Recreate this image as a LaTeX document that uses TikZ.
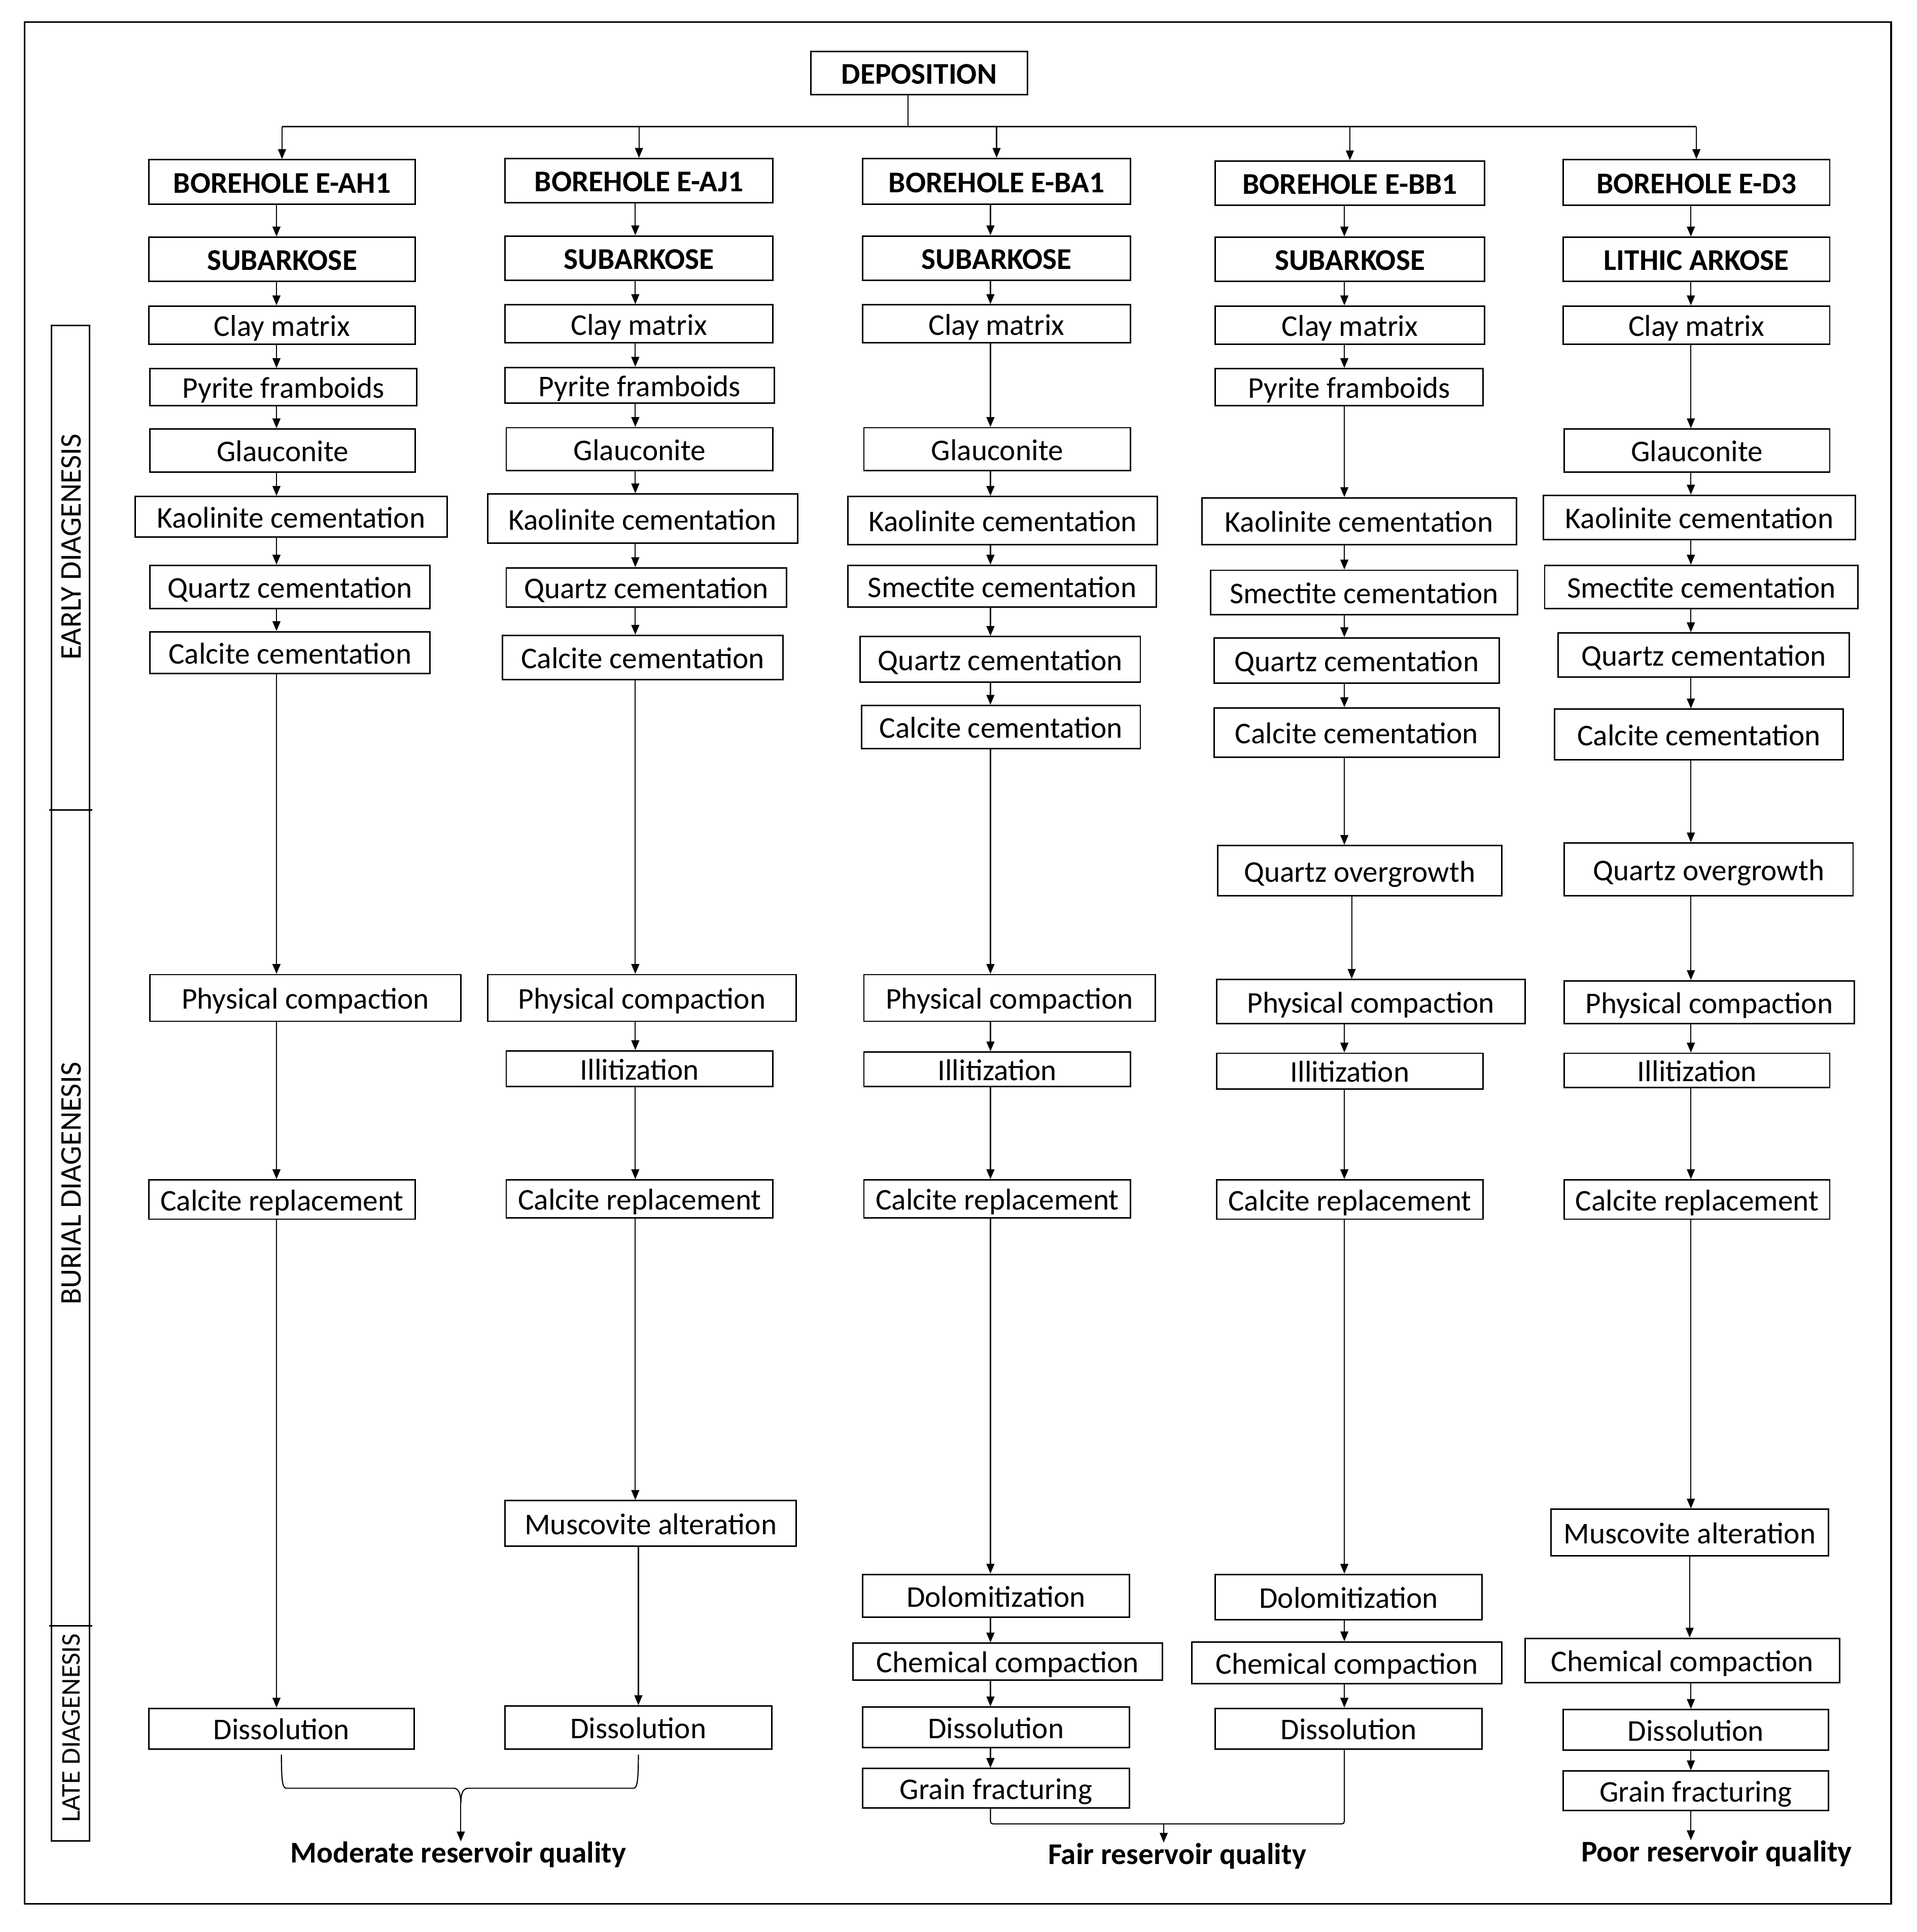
\documentclass[tikz,border=0pt]{standalone}
\usepackage{fontspec}
\setmainfont{Carlito}
\usetikzlibrary{arrows.meta}
\usetikzlibrary{calc}
\newcommand{\stgfont}{\fontsize{24.5}{28}\selectfont}
\newcommand{\stagebox}[7][stg]{%
  \node[#1,minimum width={(#5-#3)*1pt},minimum height={(#6-#4)*1pt}]
    (#2) at ({(#3+#5)/2},{(#4+#6)/2}) {#7};}
\tikzset{stg/.style={
  draw,
  line width=1.2pt,
  shape=rectangle,
  inner sep=0pt,
  text height=22pt,
  text depth=4pt,
  font=\stgfont
}}
\tikzset{hdr/.style={stg,font=\stgfont\bfseries}}
\tikzset{flow/.style={line width=0.9pt,-{Triangle[length=8pt,width=6.5pt]}}}
\tikzset{lnk/.style={line width=0.9pt}}
\tikzset{phase/.style={rotate=90,inner sep=0pt,font=\stgfont}}
\tikzset{quality/.style={inner sep=0pt,font=\stgfont\bfseries}}

\begin{document}
\begin{tikzpicture}[x=1pt,y=-1pt]
    \useasboundingbox (0,0) rectangle (1560,1572);
    \draw[line width=1.5pt] (20,18) rectangle (1539,1549);

    % Phase bar
    \draw[line width=1.2pt] (42,265) rectangle (73,1498);
    \draw[line width=1.2pt] (40,659) -- (75,659);
    \draw[line width=1.2pt] (40,1323) -- (75,1323);
    \node[phase] (early) at (58,445) {EARLY DIAGENESIS};
    \node[phase] (burial) at (58,963) {BURIAL DIAGENESIS};
    \node[phase,font=\fontsize{22}{26}\selectfont] (late) at (58,1406) {LATE DIAGENESIS};

    % Deposition and split
    \stagebox[hdr]{dep}{660}{42}{836}{77}{DEPOSITION}
    \coordinate (split) at (739,103);
    \coordinate (ca) at (225,0);
    \coordinate (cb) at (517,0);
    \coordinate (cc) at (806,0);
    \coordinate (cd) at (1094,0);
    \coordinate (cd2) at (1100,0);
    \coordinate (ce) at (1376,0);

    % Borehole E-AH1
    \stagebox[hdr]{a1}{121}{130}{338}{166}{BOREHOLE E-AH1}
    \stagebox[hdr]{a2}{121}{193}{338}{229}{SUBARKOSE}
    \stagebox{a3}{121}{249}{338}{280}{Clay matrix}
    \stagebox{a4}{122}{300}{339}{330}{Pyrite framboids}
    \stagebox{a5}{122}{349}{338}{384}{Glauconite}
    \stagebox{a6}{110}{404}{364}{437}{Kaolinite cementation}
    \stagebox{a7}{122}{460}{350}{495}{Quartz cementation}
    \stagebox{a8}{122}{514}{350}{548}{Calcite cementation}
    \stagebox{a9}{122}{793}{375}{831}{Physical compaction}
    \stagebox{a10}{121}{960}{338}{992}{Calcite replacement}
    \stagebox{a11}{121}{1390}{337}{1423}{Dissolution}

    % Borehole E-AJ1
    \stagebox[hdr]{b1}{411}{129}{629}{165}{BOREHOLE E-AJ1}
    \stagebox[hdr]{b2}{411}{192}{629}{228}{SUBARKOSE}
    \stagebox{b3}{411}{248}{629}{279}{Clay matrix}
    \stagebox{b4}{411}{299}{630}{328}{Pyrite framboids}
    \stagebox{b5}{412}{348}{629}{383}{Glauconite}
    \stagebox{b6}{397}{402}{649}{442}{Kaolinite cementation}
    \stagebox{b7}{412}{462}{640}{494}{Quartz cementation}
    \stagebox{b8}{409}{517}{637}{553}{Calcite cementation}
    \stagebox{b9}{397}{793}{648}{831}{Physical compaction}
    \stagebox{b10}{412}{855}{629}{884}{Illitization}
    \stagebox{b11}{412}{960}{629}{991}{Calcite replacement}
    \stagebox{b12}{411}{1221}{648}{1258}{Muscovite alteration}
    \stagebox{b13}{411}{1388}{628}{1423}{Dissolution}

    % Borehole E-BA1
    \stagebox[hdr]{c1}{702}{129}{920}{166}{BOREHOLE E-BA1}
    \stagebox[hdr]{c2}{702}{192}{920}{228}{SUBARKOSE}
    \stagebox{c3}{702}{248}{920}{279}{Clay matrix}
    \stagebox{c4}{703}{348}{920}{383}{Glauconite}
    \stagebox{c5}{690}{404}{942}{443}{Kaolinite cementation}
    \stagebox{c6}{690}{460}{941}{494}{Smectite cementation}
    \stagebox{c7}{700}{518}{928}{555}{Quartz cementation}
    \stagebox{c8}{701}{574}{928}{609}{Calcite cementation}
    \stagebox{c9}{703}{793}{940}{831}{Physical compaction}
    \stagebox{c10}{703}{856}{920}{884}{Illitization}
    \stagebox{c11}{703}{960}{920}{991}{Calcite replacement}
    \stagebox{c12}{702}{1281}{919}{1316}{Dolomitization}
    \stagebox{c13}{694}{1337}{946}{1367}{Chemical compaction}
    \stagebox{c14}{702}{1389}{919}{1422}{Dissolution}
    \stagebox{c15}{702}{1439}{919}{1471}{Grain fracturing}

    % Borehole E-BB1
    \stagebox[hdr]{d1}{989}{131}{1208}{167}{BOREHOLE E-BB1}
    \stagebox[hdr]{d2}{989}{193}{1208}{229}{SUBARKOSE}
    \stagebox{d3}{989}{249}{1208}{280}{Clay matrix}
    \stagebox{d4}{989}{300}{1207}{330}{Pyrite framboids}
    \stagebox{d5}{978}{405}{1234}{443}{Kaolinite cementation}
    \stagebox{d6}{985}{464}{1235}{500}{Smectite cementation}
    \stagebox{d7}{988}{519}{1220}{556}{Quartz cementation}
    \stagebox{d8}{988}{576}{1220}{616}{Calcite cementation}
    \stagebox{d9}{991}{688}{1222}{729}{Quartz overgrowth}
    \stagebox{d10}{990}{797}{1241}{833}{Physical compaction}
    \stagebox{d11}{990}{857}{1207}{886}{Illitization}
    \stagebox{d12}{990}{960}{1207}{992}{Calcite replacement}
    \stagebox{d13}{989}{1281}{1206}{1318}{Dolomitization}
    \stagebox{d14}{970}{1336}{1222}{1370}{Chemical compaction}
    \stagebox{d15}{989}{1390}{1206}{1423}{Dissolution}

    % Borehole E-D3
    \stagebox[hdr]{e1}{1272}{130}{1489}{167}{BOREHOLE E-D3}
    \stagebox[hdr]{e2}{1272}{193}{1489}{229}{LITHIC ARKOSE}
    \stagebox{e3}{1272}{249}{1489}{280}{Clay matrix}
    \stagebox{e4}{1273}{349}{1489}{384}{Glauconite}
    \stagebox{e5}{1256}{403}{1510}{439}{Kaolinite cementation}
    \stagebox{e6}{1257}{460}{1512}{495}{Smectite cementation}
    \stagebox{e7}{1268}{515}{1505}{551}{Quartz cementation}
    \stagebox{e8}{1265}{577}{1500}{618}{Calcite cementation}
    \stagebox{e9}{1273}{686}{1508}{729}{Quartz overgrowth}
    \stagebox{e10}{1273}{798}{1509}{833}{Physical compaction}
    \stagebox{e11}{1273}{857}{1489}{885}{Illitization}
    \stagebox{e12}{1273}{960}{1489}{992}{Calcite replacement}
    \stagebox{e13}{1262}{1228}{1488}{1266}{Muscovite alteration}
    \stagebox{e14}{1241}{1333}{1497}{1369}{Chemical compaction}
    \stagebox{e15}{1272}{1391}{1488}{1424}{Dissolution}
    \stagebox{e16}{1272}{1441}{1488}{1473}{Grain fracturing}

    % Quality labels
    \node[quality] (mod) at (373,1509) {Moderate reservoir quality};
    \node[quality] (fair) at (958,1510) {Fair reservoir quality};
    \node[quality] (poor) at (1397,1508) {Poor reservoir quality};

    % Split from deposition
    \draw[lnk] (dep.south -| split) -- (split);
    \draw[lnk] (a1.north |- split) -- (e1.north |- split);
    \draw[flow] (a1.north |- split) -- (a1.north);
    \draw[flow] (b1.north |- split) -- (b1.north);
    \draw[flow] (c1.north |- split) -- (c1.north);
    \draw[flow] (d1.north |- split) -- (d1.north);
    \draw[flow] (e1.north |- split) -- (e1.north);

    % Arrows E-AH1
    \draw[flow] (a1.south -| ca) -- (a2.north -| ca);
    \draw[flow] (a2.south -| ca) -- (a3.north -| ca);
    \draw[flow] (a3.south -| ca) -- (a4.north -| ca);
    \draw[flow] (a4.south -| ca) -- (a5.north -| ca);
    \draw[flow] (a5.south -| ca) -- (a6.north -| ca);
    \draw[flow] (a6.south -| ca) -- (a7.north -| ca);
    \draw[flow] (a7.south -| ca) -- (a8.north -| ca);
    \draw[flow] (a8.south -| ca) -- (a9.north -| ca);
    \draw[flow] (a9.south -| ca) -- (a10.north -| ca);
    \draw[flow] (a10.south -| ca) -- (a11.north -| ca);

    % Arrows E-AJ1
    \draw[flow] (b1.south -| cb) -- (b2.north -| cb);
    \draw[flow] (b2.south -| cb) -- (b3.north -| cb);
    \draw[flow] (b3.south -| cb) -- (b4.north -| cb);
    \draw[flow] (b4.south -| cb) -- (b5.north -| cb);
    \draw[flow] (b5.south -| cb) -- (b6.north -| cb);
    \draw[flow] (b6.south -| cb) -- (b7.north -| cb);
    \draw[flow] (b7.south -| cb) -- (b8.north -| cb);
    \draw[flow] (b8.south -| cb) -- (b9.north -| cb);
    \draw[flow] (b9.south -| cb) -- (b10.north -| cb);
    \draw[flow] (b10.south -| cb) -- (b11.north -| cb);
    \draw[flow] (b11.south -| cb) -- (b12.north -| cb);
    \draw[flow] (b12.south -| b13.north) -- (b13.north);

    % Arrows E-BA1
    \draw[flow] (c1.south -| cc) -- (c2.north -| cc);
    \draw[flow] (c2.south -| cc) -- (c3.north -| cc);
    \draw[flow] (c3.south -| cc) -- (c4.north -| cc);
    \draw[flow] (c4.south -| cc) -- (c5.north -| cc);
    \draw[flow] (c5.south -| cc) -- (c6.north -| cc);
    \draw[flow] (c6.south -| cc) -- (c7.north -| cc);
    \draw[flow] (c7.south -| cc) -- (c8.north -| cc);
    \draw[flow] (c8.south -| cc) -- (c9.north -| cc);
    \draw[flow] (c9.south -| cc) -- (c10.north -| cc);
    \draw[flow] (c10.south -| cc) -- (c11.north -| cc);
    \draw[flow] (c11.south -| cc) -- (c12.north -| cc);
    \draw[flow] (c12.south -| cc) -- (c13.north -| cc);
    \draw[flow] (c13.south -| cc) -- (c14.north -| cc);
    \draw[flow] (c14.south -| cc) -- (c15.north -| cc);

    % Arrows E-BB1
    \draw[flow] (d1.south -| cd) -- (d2.north -| cd);
    \draw[flow] (d2.south -| cd) -- (d3.north -| cd);
    \draw[flow] (d3.south -| cd) -- (d4.north -| cd);
    \draw[flow] (d4.south -| cd) -- (d5.north -| cd);
    \draw[flow] (d5.south -| cd) -- (d6.north -| cd);
    \draw[flow] (d6.south -| cd) -- (d7.north -| cd);
    \draw[flow] (d7.south -| cd) -- (d8.north -| cd);
    \draw[flow] (d8.south -| cd) -- (d9.north -| cd);
    \draw[flow] (d9.south -| cd2) -- (d10.north -| cd2);
    \draw[flow] (d10.south -| cd) -- (d11.north -| cd);
    \draw[flow] (d11.south -| cd) -- (d12.north -| cd);
    \draw[flow] (d12.south -| cd) -- (d13.north -| cd);
    \draw[flow] (d13.south -| cd) -- (d14.north -| cd);
    \draw[flow] (d14.south -| cd) -- (d15.north -| cd);

    % Arrows E-D3
    \draw[flow] (e1.south -| ce) -- (e2.north -| ce);
    \draw[flow] (e2.south -| ce) -- (e3.north -| ce);
    \draw[flow] (e3.south -| ce) -- (e4.north -| ce);
    \draw[flow] (e4.south -| ce) -- (e5.north -| ce);
    \draw[flow] (e5.south -| ce) -- (e6.north -| ce);
    \draw[flow] (e6.south -| ce) -- (e7.north -| ce);
    \draw[flow] (e7.south -| ce) -- (e8.north -| ce);
    \draw[flow] (e8.south -| ce) -- (e9.north -| ce);
    \draw[flow] (e9.south -| ce) -- (e10.north -| ce);
    \draw[flow] (e10.south -| ce) -- (e11.north -| ce);
    \draw[flow] (e11.south -| ce) -- (e12.north -| ce);
    \draw[flow] (e12.south -| ce) -- (e13.north -| ce);
    \draw[flow] (e13.south -| e13) -- (e14.north -| e13);
    \draw[flow] (e14.south -| ce) -- (e15.north -| ce);
    \draw[flow] (e15.south -| ce) -- (e16.north -| ce);

    % Moderate reservoir quality
    \coordinate (modbar) at (375,1455);
    \coordinate (modj) at (375,1467);
    \draw[lnk] ($(a11.south)+(0,4)$)
      .. controls ($(a11.south)+(0,26)$) and ($(a11.south |- modbar)+(1,0)$)
      .. ($(a11.south |- modbar)+(4,0)$) -- ($(modbar)+(-6,0)$)
      .. controls ($(modbar)+(-2,0)$) and ($(modj)+(0,-8)$) .. (modj);
    \draw[lnk] ($(b13.south)+(0,4)$)
      .. controls ($(b13.south)+(0,26)$) and ($(b13.south |- modbar)+(-1,0)$)
      .. ($(b13.south |- modbar)+(-4,0)$) -- ($(modbar)+(6,0)$)
      .. controls ($(modbar)+(2,0)$) and ($(modj)+(0,-8)$) .. (modj);
    \draw[flow] (modj) -- (mod.north -| modj);

    % Fair reservoir quality
    \coordinate (fairbar) at (947,1484);
    \draw[lnk,rounded corners=2pt] (c15.south -| cc) -- (fairbar -| cc)
      -- (fairbar -| cd) -- (d15.south -| cd);
    \draw[flow] (fairbar) -- (fair.north -| fairbar);

    % Poor reservoir quality
    \draw[flow] (e16.south -| ce) -- (poor.north -| ce);

  \end{tikzpicture}
\end{document}
